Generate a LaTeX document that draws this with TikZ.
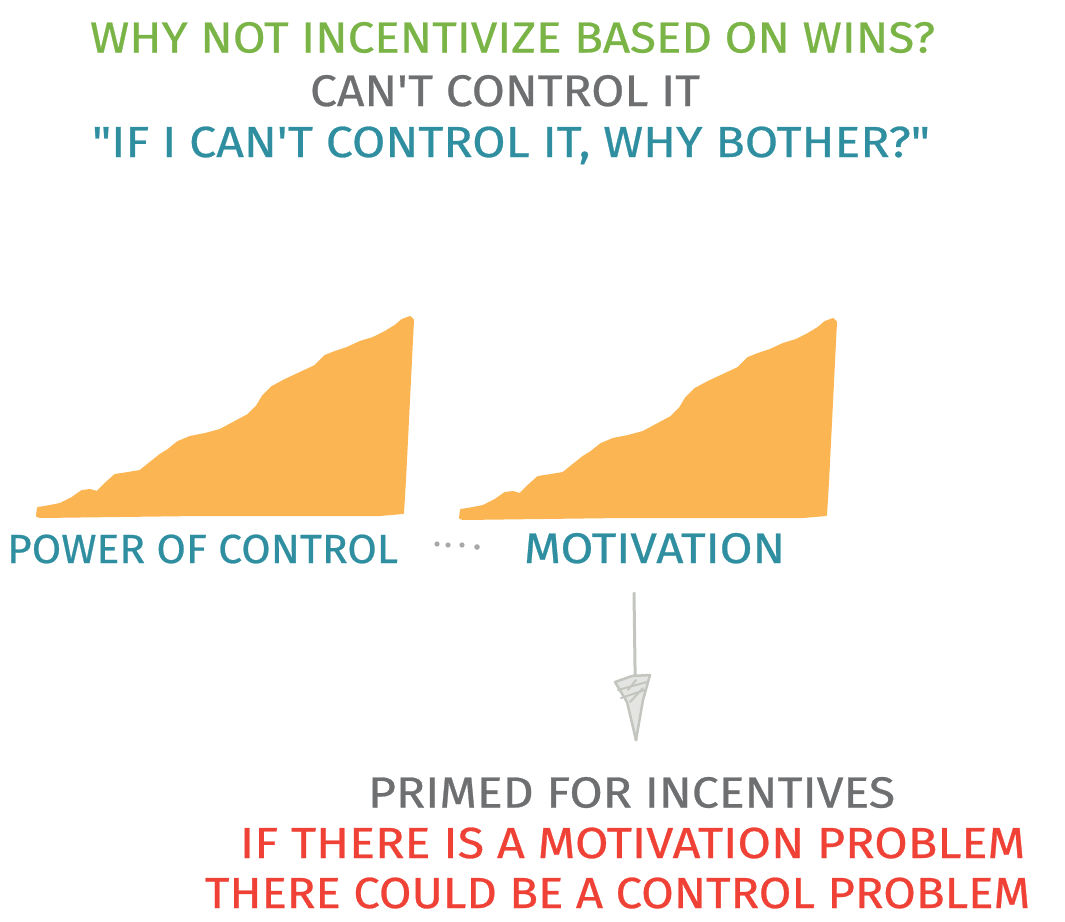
\documentclass[tikz,border=0pt]{standalone}
\usepackage{fontspec}
\setmainfont{Fira Sans}
\newfontfamily\hand[FakeBold=0.6]{Fira Sans}
\usetikzlibrary{arrows.meta}
\definecolor{cgreen}{HTML}{7AB446}
\definecolor{cgray}{HTML}{6D6F71}
\definecolor{cteal}{HTML}{2F8FA0}
\definecolor{cred}{HTML}{EF4136}
\definecolor{corange}{HTML}{FBB553}
\definecolor{carrow}{HTML}{C2C6BE}
\definecolor{cdots}{HTML}{A8A8A8}
\newcommand\fitline[3]{\resizebox{#1pt}{#2pt}{\hand #3}}
\tikzset{
  txt/.style={inner sep=0pt, outer sep=0pt, anchor=base west},
  wedge/.style={fill=corange, draw=corange, line width=2pt, line join=round},
  arrowline/.style={draw=carrow, line width=3pt, line cap=round, line join=round},
  dotmark/.style={fill=cdots, draw=none}
}
\begin{document}
\begin{tikzpicture}[x=1pt,y=-1pt]
\useasboundingbox (0,0) rectangle (1065,921);

% top texts
\node[txt,text=cgreen] (q1) at (90,52.5) {\fitline{845}{30.5}{WHY NOT INCENTIVIZE BASED ON WINS?}};
\node[txt,text=cgray] (q2) at (310,106) {\fitline{390}{31}{CAN'T CONTROL IT}};
\node[txt,text=cteal] (q3) at (92,157) {\fitline{838}{30.5}{"IF I CAN'T CONTROL IT, WHY BOTHER?"}};

% wedge shapes
\foreach \dx/\dy [count=\i] in {0/0, 423/2} {
\path[wedge, shift={(\dx,\dy)}]
 (37,516) -- (38,508) -- (50,506) -- (60,504) -- (72,498) -- (82,491) -- (90,490) -- (97,492)
 -- (105,484) -- (115,475) -- (128,473) -- (140,471) -- (150,463) -- (160,455) -- (168,450)
 -- (178,442) -- (190,437) -- (205,434) -- (220,430) -- (235,422) -- (248,415) -- (257,406)
 -- (263,396) -- (272,387) -- (285,380) -- (300,373) -- (315,366) -- (325,356) -- (335,352)
 -- (347,348) -- (360,342) -- (373,338) -- (385,332) -- (395,326) -- (402,320) -- (410,317)
 -- (413,320) -- (411,360) -- (408,420) -- (405,480) -- (403,513) -- (380,515) -- (200,515)
 -- (40,517) -- cycle;
}

% labels under wedges
\node[txt,text=cteal] (power) at (7,563) {\fitline{391}{28.5}{POWER OF CONTROL}};
\node[txt,text=cteal] (mot) at (524,563) {\fitline{261}{30}{MOTIVATION}};

% dots
\fill[dotmark] (437,544) circle (2.6);
\fill[dotmark] (448,545) circle (2.6);
\fill[dotmark] (462,545) circle (2.6);
\fill[dotmark] (477,547) circle (2.8);

% arrow
\coordinate (atop) at (634,593);
\coordinate (atip) at (636,740);
\draw[arrowline] (atop) -- (atip);
\draw[arrowline, line width=2.5pt, fill=carrow!45]
  (615,682) -- (632,676) -- (650,675) -- (643,700) -- (636,740) -- (627,702) -- cycle;
\draw[arrowline, line width=2pt] (618,690) -- (647,682);
\draw[arrowline, line width=2pt] (621,698) -- (645,690);
\draw[arrowline, line width=2pt] (628,690) -- (636,680);
\draw[arrowline, line width=2pt] (630,702) -- (643,688);

% bottom texts
\node[txt,text=cgray] (p1) at (368,807.5) {\fitline{527}{30.5}{PRIMED FOR INCENTIVES}};
\node[txt,text=cred] (p2) at (240,858) {\fitline{785}{30.5}{IF THERE IS A MOTIVATION PROBLEM}};
\node[txt,text=cred] (p3) at (205,908) {\fitline{825}{30.5}{THERE COULD BE A CONTROL PROBLEM}};
\end{tikzpicture}
\end{document}
